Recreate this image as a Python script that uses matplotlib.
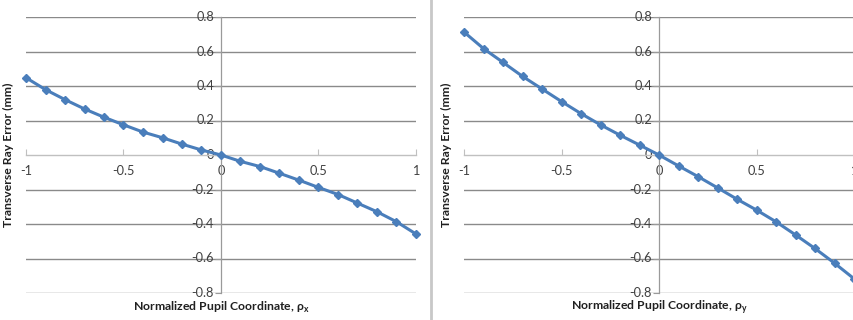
import matplotlib
matplotlib.use("Agg")
import matplotlib.pyplot as plt
from matplotlib.lines import Line2D

plt.rcParams["font.family"] = ["Lato", "DejaVu Sans"]

RHO = [-1.0, -0.9, -0.8, -0.7, -0.6, -0.5, -0.4, -0.3, -0.2, -0.1, 0.0,
       0.1, 0.2, 0.3, 0.4, 0.5, 0.6, 0.7, 0.8, 0.9, 1.0]
ERR_X = [0.448, 0.379, 0.321, 0.267, 0.219, 0.175, 0.133, 0.100, 0.063, 0.029, 0.0,
         -0.037, -0.067, -0.106, -0.146, -0.188, -0.229, -0.279, -0.329, -0.387, -0.458]
ERR_Y = [0.713, 0.617, 0.537, 0.456, 0.383, 0.310, 0.240, 0.175, 0.115, 0.058, 0.0,
         -0.063, -0.125, -0.190, -0.256, -0.319, -0.387, -0.463, -0.542, -0.627, -0.717]
Y_TICKS = [-0.8, -0.6, -0.4, -0.2, 0, 0.2, 0.4, 0.6, 0.8]
Y_TICK_LABELS = ["-0.8", "-0.6", "-0.4", "-0.2", "0", "0.2", "0.4", "0.6", "0.8"]
X_TICKS = [-1, -0.5, 0, 0.5, 1]
X_TICK_LABELS = ["-1", "-0.5", "0", "0.5", "1"]

W, H = 854, 320
LINE_BLUE = "#4a7ebb"
GRID = "#8a8a8a"
TEXT = "#404040"


def draw_panel(fig, left_px, values, xlabel):
    ax = fig.add_axes([left_px / W, 27 / H, 390 / W, 276 / H])
    ax.set_xlim(-1, 1)
    ax.set_ylim(-0.8, 0.8)
    ax.set_facecolor("none")

    for yv in Y_TICKS:
        if yv != 0:
            ax.axhline(yv, color=GRID, lw=1.0, zorder=1)

    for side in ["top", "right"]:
        ax.spines[side].set_visible(False)
    ax.spines["left"].set_position(("data", 0))
    ax.spines["bottom"].set_position(("data", 0))
    ax.spines["left"].set_color("#9a9a9a")
    ax.spines["bottom"].set_color("#c0c0c0")
    ax.spines["left"].set_linewidth(0.9)
    ax.spines["bottom"].set_linewidth(1.0)

    ax.set_xticks(X_TICKS)
    ax.set_xticklabels(X_TICK_LABELS)
    ax.set_yticks(Y_TICKS)
    ax.set_yticklabels(Y_TICK_LABELS)
    ax.tick_params(axis="x", direction="in", length=4, color="#c0c0c0",
                   labelsize=9.2, labelcolor=TEXT, pad=7)
    ax.tick_params(axis="y", direction="out", length=4, color="#9a9a9a",
                   labelsize=9.2, labelcolor=TEXT, pad=1)
    for lab in ax.get_yticklabels():
        lab.set_verticalalignment("center")

    ax.plot(RHO, values, color=LINE_BLUE, lw=2.2, marker="D", markersize=4,
            markerfacecolor=LINE_BLUE, markeredgecolor=LINE_BLUE, zorder=3,
            clip_on=False)

    ax.set_ylabel("Transverse Ray Error (mm)", fontsize=8.8, fontweight="bold",
                  color="#202020")
    ax.yaxis.set_label_coords(-12 / 390, 0.5)
    fig.text((left_px + 195) / W, 1 - 307.5 / H, xlabel, ha="center", va="center",
             fontsize=8.8, fontweight="bold", color="#202020")
    return ax


fig = plt.figure(figsize=(W / 100, H / 100), dpi=100)
draw_panel(fig, 26, ERR_X, r"Normalized Pupil Coordinate, ρ$_\mathregular{x}$")
draw_panel(fig, 464, ERR_Y, r"Normalized Pupil Coordinate, ρ$_\mathregular{y}$")

fig.add_artist(Line2D([431 / W, 431 / W], [0, 1], color="#c8c8c8", lw=2,
                      transform=fig.transFigure))

fig.savefig("out.png", dpi=100)
